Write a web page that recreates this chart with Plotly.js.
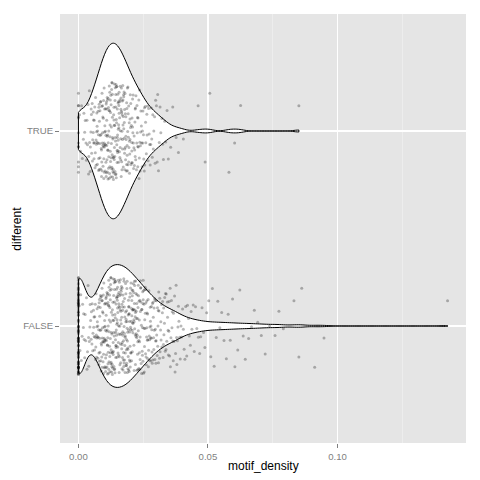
<!DOCTYPE html>
<html><head><meta charset="utf-8">
<script src="https://cdn.plot.ly/plotly-3.0.1.min.js"></script>
<style>html,body{margin:0;padding:0;background:#fff}#chart{width:480px;height:480px}</style>
</head><body><div id="chart"></div>
<script>
// ---- data ----
const categories = ['FALSE', 'TRUE'];

const densityTRUE = [
0,0,0,0,0,0,0,0,0,0,0,0,
0.0004,0.0008,
0.0012,0.0015,0.0019,
0.0021,0.0024,0.0026,0.0029,
0.0031,0.0033,0.0035,0.0037,0.0039,
0.0040,0.0042,0.0043,0.0045,0.0046,0.0048,0.0049,
0.0050,0.0051,0.0053,0.0054,0.0055,0.0057,0.0057,0.0058,0.0059,
0.0060,0.0061,0.0061,0.0063,0.0064,0.0065,0.0066,0.0068,0.0068,0.0069,
0.0070,0.0071,0.0072,0.0072,0.0073,0.0074,0.0075,0.0076,0.0077,0.0078,0.0078,0.0079,
0.0080,0.0080,0.0081,0.0082,0.0083,0.0083,0.0084,0.0085,0.0086,0.0086,0.0087,0.0088,0.0089,0.0089,
0.0090,0.0090,0.0091,0.0091,0.0092,0.0093,0.0093,0.0094,0.0095,0.0095,0.0096,0.0096,0.0097,0.0098,0.0098,0.0099,0.0099,
0.0100,0.0100,0.0101,0.0101,0.0102,0.0103,0.0103,0.0104,0.0104,0.0105,0.0106,0.0106,0.0107,0.0107,0.0108,0.0108,0.0109,0.0109,
0.0110,0.0110,0.0111,0.0111,0.0112,0.0112,0.0113,0.0113,0.0114,0.0114,0.0115,0.0115,0.0116,0.0116,0.0117,0.0117,0.0118,0.0119,0.0119,
0.0120,0.0120,0.0121,0.0121,0.0122,0.0122,0.0123,0.0123,0.0124,0.0124,0.0125,0.0125,0.0126,0.0126,0.0127,0.0127,0.0128,0.0128,0.0129,0.0129,
0.0130,0.0130,0.0131,0.0131,0.0132,0.0132,0.0133,0.0133,0.0134,0.0134,0.0135,0.0135,0.0136,0.0136,0.0137,0.0137,0.0138,0.0138,0.0139,0.0139,
0.0140,0.0140,0.0141,0.0141,0.0142,0.0142,0.0143,0.0143,0.0144,0.0144,0.0145,0.0145,0.0146,0.0146,0.0147,0.0147,0.0148,0.0148,0.0149,0.0149,
0.0150,0.0150,0.0151,0.0151,0.0152,0.0152,0.0153,0.0153,0.0154,0.0154,0.0155,0.0155,0.0156,0.0156,0.0157,0.0157,0.0158,0.0159,0.0159,
0.0160,0.0160,0.0161,0.0161,0.0162,0.0163,0.0163,0.0164,0.0164,0.0165,0.0166,0.0166,0.0167,0.0167,0.0168,0.0168,0.0169,0.0169,
0.0170,0.0170,0.0171,0.0172,0.0172,0.0173,0.0173,0.0174,0.0175,0.0175,0.0176,0.0176,0.0177,0.0178,0.0178,0.0179,0.0179,
0.0180,0.0181,0.0181,0.0182,0.0183,0.0183,0.0184,0.0185,0.0186,0.0186,0.0187,0.0188,0.0188,0.0189,0.0189,
0.0190,0.0191,0.0191,0.0192,0.0193,0.0194,0.0194,0.0195,0.0196,0.0197,0.0197,0.0198,0.0199,0.0199,
0.0200,0.0201,0.0202,0.0203,0.0204,0.0205,0.0206,0.0206,0.0207,0.0208,0.0209,0.0209,
0.0210,0.0211,0.0212,0.0213,0.0214,0.0215,0.0216,0.0217,0.0218,0.0219,0.0219,
0.0220,0.0221,0.0222,0.0224,0.0225,0.0226,0.0227,0.0228,0.0229,0.0229,
0.0230,0.0231,0.0233,0.0234,0.0235,0.0236,0.0237,0.0238,0.0239,
0.0240,0.0241,0.0243,0.0244,0.0246,0.0247,0.0248,0.0249,
0.0251,0.0252,0.0254,0.0255,0.0256,0.0258,0.0259,
0.0260,0.0262,0.0264,0.0265,0.0267,0.0269,
0.0271,0.0273,0.0275,0.0277,0.0279,
0.0281,0.0283,0.0285,0.0287,0.0289,
0.0291,0.0294,0.0296,0.0298,
0.0301,0.0304,0.0306,0.0309,
0.0312,0.0315,0.0318,
0.0322,0.0325,0.0328,
0.0333,0.0337,
0.0342,0.0347,
0.0356,0.0364,0.0377,0.0386,0.0405,
0.0462,0.0489,0.0507,0.0581,0.0603,0.0626,0.0851
];

const densityFALSE = [
0,0,0,0,0,0,0,0,0,0,0,0,0,0,0,0,0,0,0,0,0,0,0,0,0,0,0,0,0,0,
0,0,0,0,0,0,0,0,0,0,0,0,0,0,0,0,0,0,0,0,0,0,0,0,0,0,0,0,0,0,
0,0,0,0,0,0,0,0,0,0,0,0,0,0,0,0,0,0,0,0,0,0,0,0,0,0,0,0,0,0,
0.0003,0.0006,0.0009,
0.0011,0.0014,0.0016,0.0019,
0.0020,0.0022,0.0024,0.0026,0.0028,
0.0031,0.0033,0.0035,0.0037,0.0039,
0.0040,0.0042,0.0044,0.0045,0.0047,0.0049,
0.0050,0.0052,0.0053,0.0055,0.0056,0.0058,0.0059,
0.0060,0.0061,0.0062,0.0063,0.0064,0.0065,0.0066,0.0067,0.0068,0.0069,
0.0070,0.0071,0.0071,0.0072,0.0073,0.0074,0.0075,0.0075,0.0076,0.0077,0.0078,0.0079,0.0079,
0.0080,0.0080,0.0081,0.0082,0.0082,0.0083,0.0084,0.0084,0.0085,0.0086,0.0086,0.0087,0.0088,0.0088,0.0089,0.0089,
0.0090,0.0090,0.0091,0.0091,0.0092,0.0092,0.0093,0.0093,0.0094,0.0095,0.0095,0.0096,0.0096,0.0097,0.0097,0.0098,0.0099,0.0099,
0.0100,0.0100,0.0101,0.0101,0.0102,0.0102,0.0103,0.0103,0.0104,0.0104,0.0105,0.0105,0.0106,0.0106,0.0107,0.0107,0.0108,0.0108,0.0109,0.0109,
0.0110,0.0110,0.0111,0.0111,0.0112,0.0112,0.0112,0.0113,0.0113,0.0114,0.0114,0.0115,0.0115,0.0116,0.0116,0.0117,0.0117,0.0117,0.0118,0.0118,0.0119,0.0119,
0.0120,0.0120,0.0121,0.0121,0.0122,0.0122,0.0123,0.0123,0.0123,0.0124,0.0124,0.0125,0.0125,0.0126,0.0126,0.0126,0.0127,0.0127,0.0128,0.0128,0.0129,0.0129,
0.0130,0.0130,0.0131,0.0131,0.0131,0.0132,0.0132,0.0133,0.0133,0.0134,0.0134,0.0135,0.0135,0.0136,0.0136,0.0137,0.0137,0.0138,0.0138,0.0138,0.0139,0.0139,
0.0140,0.0140,0.0141,0.0141,0.0142,0.0142,0.0143,0.0143,0.0144,0.0144,0.0144,0.0145,0.0145,0.0146,0.0146,0.0147,0.0147,0.0147,0.0148,0.0148,0.0149,0.0149,
0.0150,0.0150,0.0151,0.0151,0.0152,0.0152,0.0152,0.0153,0.0153,0.0154,0.0154,0.0155,0.0155,0.0155,0.0156,0.0156,0.0157,0.0157,0.0158,0.0158,0.0159,0.0159,
0.0160,0.0160,0.0161,0.0161,0.0162,0.0162,0.0163,0.0163,0.0163,0.0164,0.0164,0.0165,0.0165,0.0166,0.0166,0.0167,0.0167,0.0168,0.0168,0.0168,0.0169,0.0169,
0.0170,0.0170,0.0171,0.0171,0.0171,0.0172,0.0172,0.0173,0.0173,0.0174,0.0174,0.0175,0.0175,0.0176,0.0176,0.0176,0.0177,0.0177,0.0178,0.0178,0.0179,0.0179,
0.0180,0.0180,0.0181,0.0181,0.0182,0.0182,0.0183,0.0183,0.0184,0.0184,0.0185,0.0185,0.0185,0.0186,0.0186,0.0187,0.0187,0.0188,0.0188,0.0189,0.0189,
0.0190,0.0190,0.0191,0.0191,0.0192,0.0192,0.0193,0.0193,0.0194,0.0194,0.0195,0.0195,0.0196,0.0196,0.0197,0.0197,0.0198,0.0198,0.0199,0.0199,
0.0200,0.0200,0.0201,0.0201,0.0202,0.0202,0.0203,0.0203,0.0204,0.0204,0.0205,0.0206,0.0206,0.0207,0.0207,0.0208,0.0208,0.0209,0.0209,
0.0210,0.0210,0.0211,0.0211,0.0212,0.0212,0.0213,0.0214,0.0214,0.0215,0.0215,0.0216,0.0216,0.0217,0.0217,0.0218,0.0219,0.0219,
0.0220,0.0220,0.0221,0.0222,0.0222,0.0223,0.0223,0.0224,0.0225,0.0225,0.0226,0.0226,0.0227,0.0228,0.0228,0.0229,0.0229,
0.0230,0.0231,0.0231,0.0232,0.0233,0.0233,0.0234,0.0235,0.0235,0.0236,0.0237,0.0237,0.0238,0.0238,0.0239,0.0239,
0.0240,0.0241,0.0241,0.0242,0.0243,0.0244,0.0244,0.0245,0.0246,0.0247,0.0247,0.0248,0.0249,0.0249,
0.0250,0.0250,0.0251,0.0252,0.0253,0.0253,0.0254,0.0255,0.0256,0.0256,0.0257,0.0258,0.0258,0.0259,
0.0260,0.0261,0.0261,0.0262,0.0263,0.0264,0.0264,0.0265,0.0266,0.0267,0.0267,0.0268,0.0269,
0.0270,0.0271,0.0272,0.0273,0.0274,0.0275,0.0276,0.0277,0.0278,0.0279,0.0279,
0.0280,0.0281,0.0282,0.0283,0.0284,0.0285,0.0286,0.0287,0.0288,0.0289,
0.0290,0.0291,0.0292,0.0293,0.0294,0.0295,0.0296,0.0297,0.0298,0.0299,
0.0300,0.0301,0.0302,0.0304,0.0305,0.0306,0.0307,0.0308,0.0309,
0.0310,0.0311,0.0313,0.0314,0.0315,0.0317,0.0318,0.0319,
0.0321,0.0322,0.0324,0.0325,0.0327,0.0328,0.0329,
0.0330,0.0332,0.0333,0.0335,0.0336,0.0338,0.0339,
0.0341,0.0343,0.0344,0.0346,0.0347,0.0349,
0.0350,0.0352,0.0354,0.0355,0.0357,0.0359,
0.0361,0.0362,0.0364,0.0366,0.0367,0.0369,
0.0371,0.0373,0.0375,0.0377,0.0379,
0.0380,0.0382,0.0384,0.0386,0.0388,
0.0391,0.0393,0.0396,0.0398,
0.0402,0.0405,0.0408,
0.0411,0.0414,0.0418,
0.0421,0.0425,0.0428,
0.0432,0.0435,0.0438,
0.0443,0.0447,
0.0452,0.0457,
0.0463,0.0468,
0.0472,0.0477,
0.0483,0.0488,
0.0495,
0.0503,0.0511,0.0517,0.0524,0.0532,0.0538,0.0546,
0.0553,0.0562,0.0571,0.0578,0.0586,0.0595,
0.0604,0.0615,0.0623,0.0636,0.0644,
0.0657,0.0668,0.0679,0.0692,
0.0706,0.0721,0.0738,
0.0759,0.0774,0.0791,
0.0832,0.0851,0.0862,
0.0912,0.0948,
0.1425
];

const xTickVals = [0, 0.05, 0.10];
const xTickText = ['0.00', '0.05', '0.10'];
const xMinorVals = [0.025, 0.075, 0.125];
const xTitle = 'motif_density';
const yTitle = 'different';

// ---- styling ----
const FONT = '"Liberation Sans", Arial, Helvetica, sans-serif';
const violinWidths = { 'TRUE': 0.90, 'FALSE': 0.63 };
const bandwidths = { 'TRUE': 0.0019, 'FALSE': 0.0025 };
// x-bands used only to keep the jitter spread even along the axis
const bandEdges = {
  'TRUE':  [0, 1e-9, 0.005, 0.009, 0.022, 0.03, 0.045, 0.07, 1],
  'FALSE': [0, 1e-9, 0.005, 0.009, 0.026, 0.035, 0.05, 0.08, 0.1, 1]
};

function violinTrace(vals, cat) {
  return {
    type: 'violin', orientation: 'h', x: vals, y0: cat, name: cat,
    width: violinWidths[cat], bandwidth: bandwidths[cat], spanmode: 'hard',
    scalemode: 'width', points: false,
    fillcolor: '#FFFFFF', line: { color: '#000000', width: 1 },
    box: { visible: false }, meanline: { visible: false },
    hoverinfo: 'skip', showlegend: false
  };
}
function pointTraces(vals, cat) {
  const edges = bandEdges[cat];
  const out = [];
  for (let i = 0; i < edges.length - 1; i++) {
    const lo = edges[i], hi = edges[i + 1];
    const sub = vals.filter(v => v >= lo && v < hi);
    if (!sub.length) continue;
    out.push({
      type: 'box', orientation: 'h', x: sub, y0: cat, name: cat,
      width: 0.5, boxpoints: 'all', jitter: 1, pointpos: 0,
      fillcolor: 'rgba(0,0,0,0)', line: { width: 0, color: 'rgba(0,0,0,0)' },
      whiskerwidth: 0,
      marker: { size: 3, color: 'rgba(0,0,0,0.28)', line: { width: 0 } },
      hoverinfo: 'skip', showlegend: false
    });
  }
  return out;
}

const data = [
  violinTrace(densityTRUE, 'TRUE'),
  violinTrace(densityFALSE, 'FALSE'),
  ...pointTraces(densityTRUE, 'TRUE'),
  ...pointTraces(densityFALSE, 'FALSE')
];

const layout = {
  width: 480, height: 480,
  margin: { l: 60, r: 14, t: 14, b: 37, pad: 0 },
  paper_bgcolor: '#FFFFFF', plot_bgcolor: '#E5E5E5',
  showlegend: false, violinmode: 'overlay', boxmode: 'overlay',
  font: { family: FONT, size: 12, color: '#000000' },
  xaxis: {
    range: [-0.007125, 0.149625], tickvals: xTickVals, ticktext: xTickText,
    ticks: 'outside', ticklen: 4, tickwidth: 1, tickcolor: '#7F7F7F',
    tickfont: { family: FONT, size: 9.6, color: '#7F7F7F' },
    showgrid: true, gridcolor: '#FFFFFF', gridwidth: 1.1,
    minor: { tickvals: xMinorVals, showgrid: true, gridcolor: '#F2F2F2', gridwidth: 0.6, ticks: '' },
    zeroline: false, showline: false, automargin: false,
    title: { text: '' }
  },
  yaxis: {
    type: 'category', categoryorder: 'array', categoryarray: categories,
    range: [-0.6, 1.6],
    ticks: 'outside', ticklen: 4, tickwidth: 1, tickcolor: '#7F7F7F',
    tickfont: { family: FONT, size: 9.6, color: '#7F7F7F' },
    showgrid: true, gridcolor: '#FFFFFF', gridwidth: 1.1,
    zeroline: false, showline: false, automargin: false,
    title: { text: '' }
  },
  annotations: [
    { text: xTitle, xref: 'paper', yref: 'paper', x: 0.5, y: -0.054,
      xanchor: 'center', yanchor: 'middle', showarrow: false,
      font: { family: FONT, size: 12, color: '#000000' } },
    { text: yTitle, xref: 'paper', yref: 'paper', x: -0.108, y: 0.5,
      xanchor: 'center', yanchor: 'middle', textangle: -90, showarrow: false,
      font: { family: FONT, size: 12, color: '#000000' } }
  ]
};

Plotly.newPlot('chart', data, layout, { displayModeBar: false, staticPlot: true });
</script>
</body></html>
